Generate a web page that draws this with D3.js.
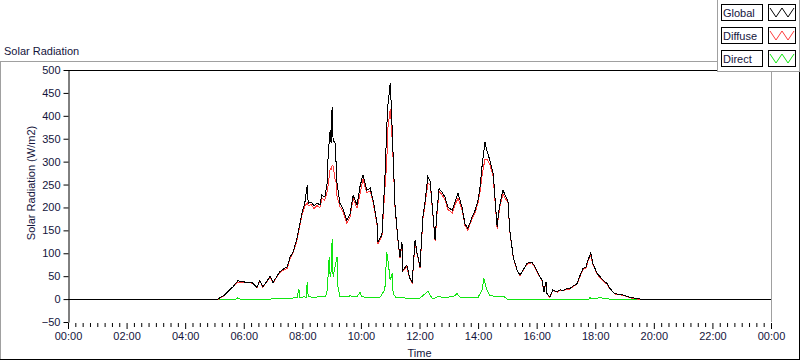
<!DOCTYPE html>
<html>
<head>
<meta charset="utf-8">
<script src="https://cdn.jsdelivr.net/npm/d3@7"></script>
<style>
  html, body { margin: 0; padding: 0; background: #fff; }
  svg { display: block; font-family: "Liberation Sans", Arial, sans-serif; font-size: 11px; }
  .txt { fill: #14143c; }
</style>
</head>
<body>
<div id="app"></div>
<script>
// series data (time of day, W/m2)
const gdTimes = ["00:00","01:10","02:48","04:30","05:07","05:22","05:38","05:48","06:03","06:17","06:27","06:33","06:39","06:48","06:54","07:00","07:08","07:14","07:22","07:29","07:35","07:41","07:49","07:55","07:59","08:05","08:10","08:12","08:18","08:24","08:30","08:36","08:40","08:46","08:51","08:53","08:57","08:59","09:01","09:03","09:07","09:09","09:11","09:17","09:23","09:31","09:38","09:44","09:52","09:58","10:04","10:12","10:19","10:25","10:33","10:35","10:43","10:45","10:49","10:53","10:55","11:00","11:02","11:06","11:10","11:16","11:20","11:24","11:26","11:34","11:40","11:45","11:51","11:55","11:57","12:01","12:07","12:11","12:17","12:22","12:28","12:32","12:36","12:40","12:46","12:52","12:58","13:07","13:13","13:19","13:27","13:33","13:39","13:48","13:54","14:00","14:04","14:08","14:14","14:18","14:24","14:31","14:35","14:39","14:41","14:45","14:51","14:57","15:01","15:05","15:12","15:20","15:26","15:32","15:40","15:50","15:57","16:03","16:11","16:15","16:19","16:21","16:27","16:33","16:42","16:48","16:54","17:02","17:08","17:14","17:23","17:29","17:35","17:41","17:45","17:51","17:55","18:04","18:10","18:16","18:24","18:30","18:40","18:57","19:11","19:26","19:42","21:00","22:30","24:00"];
const globalVals = [-1,-1,-1,-1,0,10,27,40,37,36,25,41,27,40,50,36,50,60,66,70,92,103,132,165,187,209,249,209,212,203,210,205,227,223,253,318,369,340,420,347,340,300,253,209,198,172,187,227,205,245,271,238,242,216,166,125,140,180,260,376,420,471,428,314,201,129,92,125,63,74,46,38,129,100,92,70,180,209,267,256,180,129,194,241,234,223,201,194,212,231,201,165,154,180,194,216,245,289,343,325,303,274,216,158,180,209,238,223,216,150,92,63,52,63,78,81,70,56,41,16,38,12,5,20,16,20,19,23,23,28,34,52,67,70,85,101,78,56,49,41,34,23,12,9,4,1,-1,-1,-1,-1];
const diffuseVals = [-1,-1,-1,-1,-1,9,26,37,36,35,24,40,26,39,48,35,49,58,64,67,89,100,128,160,183,203,210,204,206,198,204,199,220,216,235,250,285,282,292,290,262,255,225,202,192,166,180,220,198,228,262,232,236,211,162,121,136,170,240,300,370,415,390,305,197,126,89,121,61,71,44,36,125,97,89,68,175,203,252,250,178,126,188,235,228,217,196,188,207,220,196,161,150,176,189,210,235,268,305,305,295,267,210,154,175,203,230,217,214,147,90,62,51,62,76,79,68,55,40,15,37,11,4,19,15,19,18,22,22,27,33,50,65,68,82,96,76,54,47,39,33,22,11,8,3,0,-1,-1,-1,-1];
const directTimes = ["00:00","05:07","05:44","05:48","05:52","06:54","07:08","07:35","07:49","07:53","07:55","08:05","08:08","08:10","08:12","08:26","08:40","08:48","08:51","08:55","08:57","08:59","09:01","09:03","09:07","09:11","09:13","09:17","09:27","09:38","09:52","09:58","10:02","10:19","10:39","10:49","10:53","10:57","11:00","11:04","11:06","11:12","11:40","12:01","12:17","12:24","12:28","12:36","12:52","13:09","13:17","13:23","13:44","14:00","14:08","14:12","14:18","14:24","14:45","14:53","14:59","17:47","17:49","17:53","18:10","18:30","24:00"];
const directVals = [0,0,0,3,0,0,1,2,3,22,4,5,3,38,5,4,6,6,20,92,49,60,131,49,70,92,27,6,5,7,5,15,5,3,4,20,103,70,41,56,12,3,2,2,17,5,0,5,4,5,12,4,3,4,20,45,20,7,6,6,0,0,4,0,3,0,0];

const seriesNames = ["Global", "Diffuse", "Direct"];
const seriesColors = ["#000000", "#ff3c3c", "#12e612"];
const yTicks = d3.range(-50, 501, 50);
const xMajor = d3.range(0, 1441, 120);
const xMinor = d3.range(0, 1441, 15).filter(m => m % 120 !== 0);

function toMin (s) {
	const p = s.split(':');
	return +p[0] * 60 + +p[1];
}
function fmtMin (m) {
	const h = Math.floor(m / 60) % 24;
	return d3.format('02d')(h) + ':00';
}

const W = 800, H = 361;
const margin = { top: 70, right: 29, bottom: 39, left: 68 };

const svg = d3.select('#app').append('svg')
	.attr('width', W)
	.attr('height', H);

// outer panel frame
svg.append('line').attr('x1', 0).attr('x2', 717).attr('y1', 61.5).attr('y2', 61.5).attr('stroke', '#a0a0a0');
svg.append('line').attr('x1', 0.5).attr('x2', 0.5).attr('y1', 61).attr('y2', 360).attr('stroke', '#a0a0a0');
svg.append('line').attr('x1', 0).attr('x2', 800).attr('y1', 359.5).attr('y2', 359.5).attr('stroke', '#000');
svg.append('line').attr('x1', 799.5).attr('x2', 799.5).attr('y1', 72).attr('y2', 360).attr('stroke', '#000');

svg.append('text').attr('class', 'txt')
	.attr('x', 4).attr('y', 55)
	.text('Solar Radiation');

const x = d3.scaleLinear().domain([0, 1440]).range([margin.left, W - margin.right]);
const y = d3.scaleLinear().domain([-50, 500]).range([H - margin.bottom, margin.top]);

// plot frame: top black, right gray
svg.append('line').attr('x1', x(0)).attr('x2', x(1440)).attr('y1', 70.5).attr('y2', 70.5).attr('stroke', '#000');
svg.append('line').attr('x1', x(1440) + 0.5).attr('x2', x(1440) + 0.5).attr('y1', 71).attr('y2', y(-50)).attr('stroke', '#a0a0a0');

const line = d3.line()
	.x(d => x(d[0]))
	.y(d => y(d[1]));

const gdMin = gdTimes.map(toMin);
const series = [
	directTimes.map((t, i) => [toMin(t), directVals[i]]),
	gdMin.map((t, i) => [t, diffuseVals[i]]),
	gdMin.map((t, i) => [t, globalVals[i]])
];
const seriesCol = [seriesColors[2], seriesColors[1], seriesColors[0]];

svg.append('g')
	.selectAll('path')
	.data(series)
	.enter().append('path')
		.attr('d', line)
		.attr('fill', 'none')
		.attr('stroke', (d, i) => seriesCol[i])
		.attr('stroke-width', 1)
		.attr('shape-rendering', 'crispEdges');

// y axis
const yAxis = svg.append('g')
	.attr('transform', `translate(${ x(0) + 0.5 },0)`)
	.call(d3.axisLeft(y).tickValues(yTicks).tickSize(5).tickSizeOuter(0).tickPadding(3));
yAxis.select('.domain').attr('stroke', '#000');
yAxis.selectAll('text').attr('class', 'txt').attr('font-size', 11).attr('font-family', null);

// x axis, major + minor ticks
const xAxis = svg.append('g')
	.attr('transform', `translate(0,${ y(-50) + 1 })`)
	.call(d3.axisBottom(x).tickValues(xMajor).tickSize(6).tickPadding(3).tickFormat(fmtMin));
xAxis.select('.domain').remove();
xAxis.selectAll('text').attr('class', 'txt').attr('font-size', 11).attr('font-family', null);

const xMinorAxis = svg.append('g')
	.attr('transform', `translate(0,${ y(-50) + 1 })`)
	.call(d3.axisBottom(x).tickValues(xMinor).tickSize(4).tickFormat(''));
xMinorAxis.select('.domain').remove();

svg.append('text').attr('class', 'txt')
	.attr('x', (x(0) + x(1440)) / 2).attr('y', 357)
	.attr('text-anchor', 'middle')
	.text('Time');

svg.append('text').attr('class', 'txt')
	.attr('transform', `translate(35,183) rotate(-90)`)
	.attr('text-anchor', 'middle')
	.text('Solar Radiation (W/m2)');

// legend
const legend = svg.append('g');
legend.append('rect')
	.attr('x', 717.5).attr('y', -1).attr('width', 82).attr('height', 72.5)
	.attr('fill', '#fff').attr('stroke', '#a0a0a0');
const item = legend.selectAll('g.item')
	.data(seriesNames)
	.enter().append('g')
		.attr('class', 'item')
		.attr('transform', (d, i) => `translate(0,${ 4 + i * 23 })`);
item.append('rect')
	.attr('x', 721.5).attr('y', 0.5).attr('width', 41).attr('height', 16)
	.attr('fill', '#fff').attr('stroke', '#000');
item.append('text').attr('class', 'txt')
	.attr('x', 723).attr('y', 13)
	.text(d => d);
item.append('rect')
	.attr('x', 768.5).attr('y', 0.5).attr('width', 27).attr('height', 16)
	.attr('fill', '#fff').attr('stroke', '#000');
item.append('path')
	.attr('d', 'M770,4L776,13L782,4L788,13L794,4')
	.attr('fill', 'none')
	.attr('stroke', (d, i) => seriesColors[i]);
</script>
</body>
</html>
